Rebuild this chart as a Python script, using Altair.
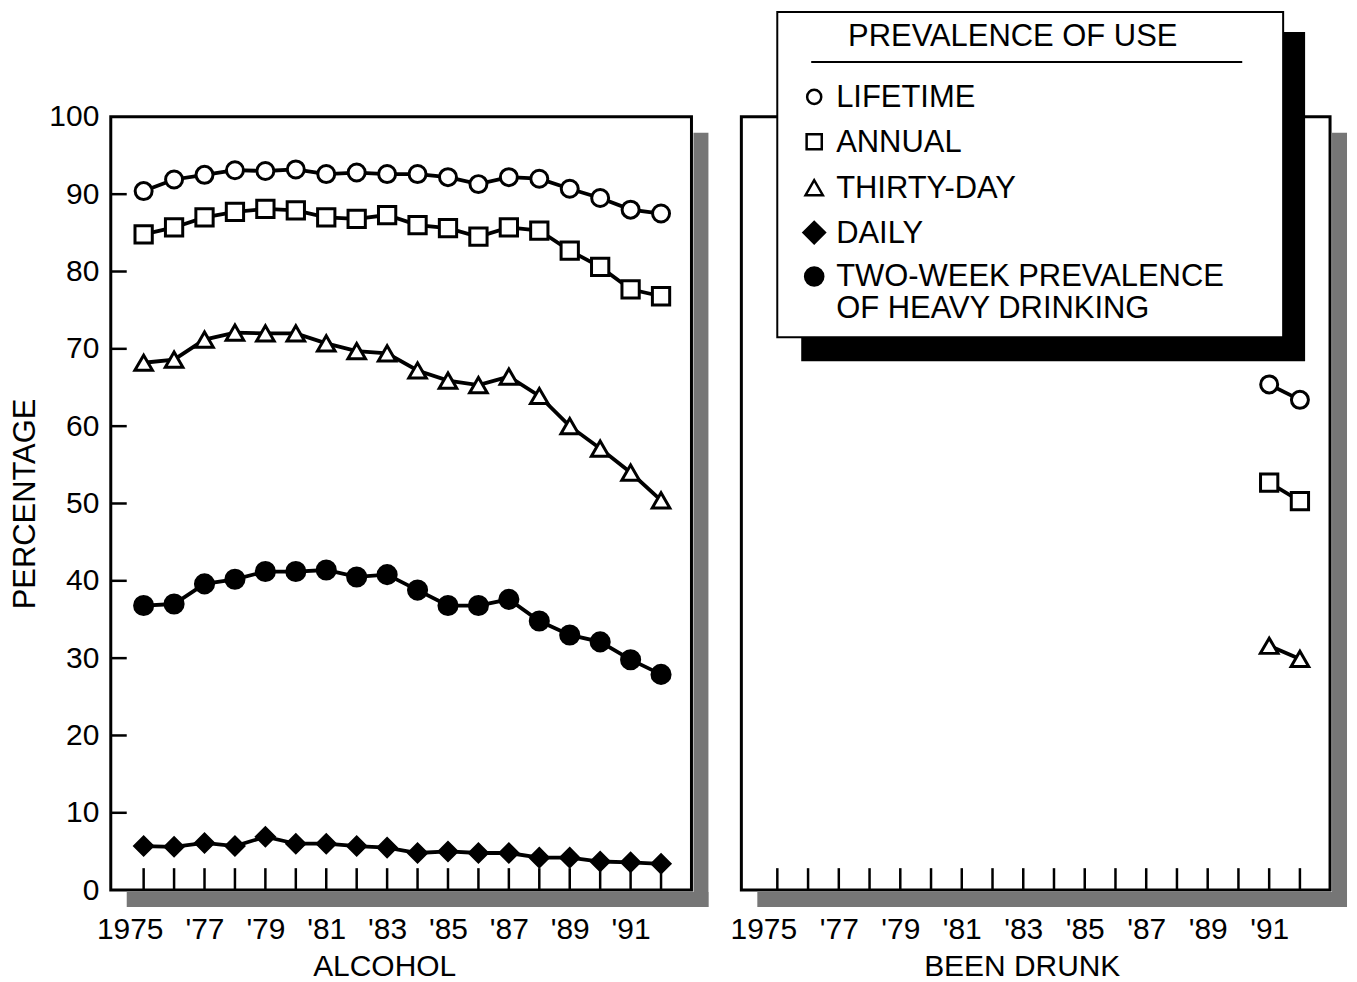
import altair as alt
import pandas as pd

# ---------------- data ----------------
YEARS = list(range(1975, 1993))
SERIES = ["LIFETIME", "ANNUAL", "THIRTY-DAY", "DAILY", "HEAVY"]

ALC_LIFETIME = [90.4, 91.9, 92.5, 93.1, 93.0, 93.2, 92.6, 92.8, 92.6, 92.6, 92.2, 91.3, 92.2, 92.0, 90.7, 89.5, 88.0, 87.5]
ALC_ANNUAL = [84.8, 85.7, 87.0, 87.7, 88.1, 87.9, 87.0, 86.8, 87.3, 86.0, 85.6, 84.5, 85.7, 85.3, 82.7, 80.6, 77.7, 76.8]
ALC_THIRTY = [68.2, 68.6, 71.2, 72.1, 72.0, 72.0, 70.7, 69.7, 69.4, 67.2, 65.9, 65.3, 66.4, 63.9, 60.0, 57.1, 54.0, 50.4]
ALC_DAILY = [5.7, 5.6, 6.1, 5.7, 6.9, 6.0, 6.0, 5.7, 5.5, 4.8, 5.0, 4.8, 4.8, 4.2, 4.2, 3.7, 3.6, 3.4]
ALC_HEAVY = [36.8, 37.0, 39.6, 40.2, 41.2, 41.2, 41.4, 40.5, 40.8, 38.8, 36.8, 36.8, 37.6, 34.8, 33.0, 32.1, 29.8, 27.9]

DRUNK_YEARS = [1991, 1992]
DRUNK_LIFETIME = [65.4, 63.4]
DRUNK_ANNUAL = [52.7, 50.3]
DRUNK_THIRTY = [31.6, 29.9]

X_LABEL_YEARS = [1975, 1977, 1979, 1981, 1983, 1985, 1987, 1989, 1991]
Y_TICKS = [0, 10, 20, 30, 40, 50, 60, 70, 80, 90, 100]

LEGEND_TITLE = "PREVALENCE OF USE"
LEGEND_LINES = ["LIFETIME", "ANNUAL", "THIRTY-DAY", "DAILY", "TWO-WEEK PREVALENCE"]
LEGEND_EXTRA_LINE = "OF HEAVY DRINKING"
PANEL_TITLES = ["ALCOHOL", "BEEN DRUNK"]
Y_TITLE = "PERCENTAGE"

# ---------------- styles ----------------
FONT = "Liberation Sans"
FS = 30
FS_LEG = 31
H = 775
HATCH = "#767676"
SHAPES = ["circle", "square", "triangle-up", "diamond", "circle"]
FILLS = ["white", "white", "white", "black", "black"]
SIZES = [290, 330, 420, 600, 340]
LEG_SIZES = [200, 230, 300, 460, 330]


def long_df(years, cols):
    rows = []
    for name, vals in cols:
        for yr, v in zip(years, vals):
            rows.append({"year": yr, "value": v, "series": name})
    return pd.DataFrame(rows)


alc_df = long_df(YEARS, [("LIFETIME", ALC_LIFETIME), ("ANNUAL", ALC_ANNUAL),
                         ("THIRTY-DAY", ALC_THIRTY), ("DAILY", ALC_DAILY), ("HEAVY", ALC_HEAVY)])
drunk_df = long_df(DRUNK_YEARS, [("LIFETIME", DRUNK_LIFETIME), ("ANNUAL", DRUNK_ANNUAL),
                                 ("THIRTY-DAY", DRUNK_THIRTY)])

LABEL_EXPR = "datum.value == 1975 ? '1975' : \"'\" + substring(toString(datum.value), 2, 4)"

ONE = pd.DataFrame({"k": [0]})


def panel(df, W, xdom, title, title_x, left):
    xs = alt.Scale(domain=xdom, nice=False, zero=False)
    ys = alt.Scale(domain=[0, 100], nice=False, zero=True)
    xaxis = alt.Axis(values=X_LABEL_YEARS, labelExpr=LABEL_EXPR, title=title,
                     ticks=False, tickSize=0, domain=False, grid=False,
                     labelPadding=24, labelFontSize=FS, labelFont=FONT, labelColor="black",
                     labelFlush=False, labelOverlap=False,
                     labelOffset={"condition": {"test": "datum.value == 1975", "value": -14}, "value": 0},
                     titleX=title_x, titleY=86, titleBaseline="alphabetic", titleAlign="center",
                     titleFontSize=FS, titleFont=FONT, titleFontWeight="normal", titleColor="black")
    if left:
        yaxis = alt.Axis(values=Y_TICKS, ticks=False, tickSize=0, domain=False, grid=False,
                         labelPadding=12, labelFontSize=FS, labelFont=FONT, labelColor="black",
                         labelFlush=False, labelOverlap=False,
                         title=Y_TITLE, titlePadding=7, titleFontSize=31, titleFont=FONT,
                         titleFontWeight="normal", titleColor="black")
    else:
        yaxis = None

    shadow_r = alt.Chart(ONE).mark_rect(color=HATCH).encode(
        x=alt.value(W + 2), x2=alt.value(W + 17), y=alt.value(16), y2=alt.value(H + 17))
    shadow_b = alt.Chart(ONE).mark_rect(color=HATCH).encode(
        x=alt.value(16), x2=alt.value(W + 17), y=alt.value(H + 2), y2=alt.value(H + 17))

    xticks = alt.Chart(pd.DataFrame({"year": YEARS})).mark_rule(color="black", strokeWidth=2.5).encode(
        x=alt.X("year:Q", scale=xs, axis=xaxis), y=alt.value(H), y2=alt.value(H - 22))

    lines = alt.Chart(df).mark_line(color="black", strokeWidth=3.8).encode(
        x=alt.X("year:Q", scale=xs, axis=xaxis),
        y=alt.Y("value:Q", scale=ys, axis=yaxis),
        detail="series:N")
    points = alt.Chart(df).mark_point(opacity=1, stroke="black", strokeWidth=3).encode(
        x=alt.X("year:Q", scale=xs, axis=xaxis),
        y=alt.Y("value:Q", scale=ys, axis=yaxis),
        shape=alt.Shape("series:N", scale=alt.Scale(domain=SERIES, range=SHAPES), legend=None),
        fill=alt.Fill("series:N", scale=alt.Scale(domain=SERIES, range=FILLS), legend=None),
        size=alt.Size("series:N", scale=alt.Scale(domain=SERIES, range=SIZES), legend=None))

    layers = [shadow_r, shadow_b, xticks]
    if left:
        yticks = alt.Chart(pd.DataFrame({"value": Y_TICKS[1:-1]})).mark_rule(color="black", strokeWidth=2.5).encode(
            y=alt.Y("value:Q", scale=ys, axis=yaxis), x=alt.value(0), x2=alt.value(16))
        layers.append(yticks)
    layers += [lines, points]

    if not left:
        d = 3  # vertical shift of the legend block
        layers.append(alt.Chart(ONE).mark_rect(color="black").encode(
            x=alt.value(60), x2=alt.value(565), y=alt.value(-88 + d), y2=alt.value(242 + d)))
        layers.append(alt.Chart(ONE).mark_rect(fill="white", stroke="black", strokeWidth=2).encode(
            x=alt.value(36), x2=alt.value(543), y=alt.value(-108 + d), y2=alt.value(218 + d)))
        layers.append(alt.Chart(ONE).mark_text(align="center", baseline="middle", fontSize=FS_LEG,
                                               font=FONT, color="black").encode(
            x=alt.value(272), y=alt.value(-83 + d), text=alt.value(LEGEND_TITLE)))
        layers.append(alt.Chart(ONE).mark_rule(color="black", strokeWidth=2).encode(
            x=alt.value(70), x2=alt.value(502), y=alt.value(-58 + d)))
        row_y = [-23, 22, 68, 113, 157]
        for i, lab in enumerate(LEGEND_LINES):
            layers.append(alt.Chart(ONE).mark_point(
                shape=SHAPES[i], size=LEG_SIZES[i], fill=FILLS[i], stroke="black",
                strokeWidth=2.5, opacity=1).encode(x=alt.value(73), y=alt.value(row_y[i] + d)))
            layers.append(alt.Chart(ONE).mark_text(align="left", baseline="middle", fontSize=FS_LEG,
                                                   font=FONT, color="black").encode(
                x=alt.value(95), y=alt.value(row_y[i] + 1 + d), text=alt.value(lab)))
        layers.append(alt.Chart(ONE).mark_text(align="left", baseline="middle", fontSize=FS_LEG,
                                               font=FONT, color="black").encode(
            x=alt.value(95), y=alt.value(190 + d), text=alt.value(LEGEND_EXTRA_LINE)))

    return alt.layer(*layers).properties(width=W, height=H)


left = panel(alc_df, 582, [1973.92, 1993.0], PANEL_TITLES[0], 274, True)
right = panel(drunk_df, 590, [1973.83, 1992.98], PANEL_TITLES[1], 281, False)

chart = alt.hconcat(left, right, spacing=50, bounds="flush").properties(
    padding={"left": 0, "top": 0, "right": 0, "bottom": 0}
).configure_view(stroke="black", strokeWidth=3)

chart.save("out.html", embed_options={"renderer": "svg", "actions": False})
